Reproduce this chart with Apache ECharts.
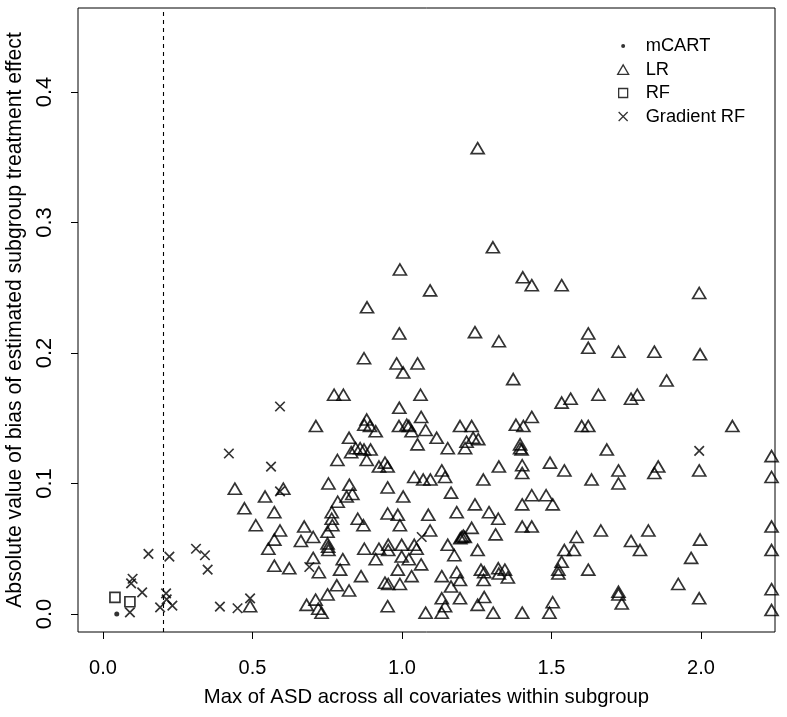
<!DOCTYPE html>
<html><head><meta charset="utf-8">
<script src="https://cdn.jsdelivr.net/npm/echarts@6/dist/echarts.min.js"></script>
<style>html,body{margin:0;padding:0;background:#fff}#c{width:787px;height:717px}</style>
</head><body><div id="c"></div>
<script>
const xTicks = [0, 0.5, 1, 1.5, 2];
const yTicks = [0, 0.1, 0.2, 0.3, 0.4];
const cutoff = 0.2;
const seriesNames = ['mCART', 'LR', 'RF', 'Gradient RF'];
const xTitle = 'Max of ASD across all covariates within subgroup';
const yTitle = 'Absolute value of bias of estimated subgroup treatment effect';

const mcart = [[0.046, 0.0]];
const rf = [[0.040, 0.0128], [0.090, 0.0094]];
const gradientRF = [
  [0.421,0.123],[0.592,0.159],[0.562,0.113],[0.152,0.046],[0.222,0.044],[0.311,0.050],
  [0.341,0.045],[0.350,0.034],[0.099,0.027],[0.094,0.0235],[0.131,0.0166],[0.211,0.0158],
  [0.213,0.0112],[0.232,0.0064],[0.191,0.0051],[0.391,0.0056],[0.450,0.0044],[0.492,0.012],
  [0.090,0.0013],[0.592,0.094],[1.066,0.059],[0.690,0.036],[1.994,0.125]
];
const lr = [
  [1.253,0.357],[1.304,0.281],[0.993,0.264],[1.094,0.248],[0.883,0.235],
  [1.404,0.258],[1.434,0.252],[1.534,0.252],[1.994,0.246],
  [0.991,0.215],[0.873,0.196],[0.982,0.192],[1.052,0.192],[1.004,0.185],
  [0.773,0.168],[0.804,0.168],[1.062,0.168],[0.991,0.158],[1.064,0.151],
  [0.712,0.144],[0.882,0.149],[0.874,0.145],[0.893,0.144],[0.912,0.140],
  [0.990,0.144],[1.016,0.145],[1.023,0.144],[1.032,0.140],[1.079,0.141],
  [0.823,0.135],[0.830,0.124],[0.845,0.127],[0.860,0.127],[0.873,0.126],[0.895,0.126],
  [1.052,0.130],[0.784,0.118],[0.882,0.118],[0.923,0.113],[0.943,0.116],[0.952,0.113],
  [1.041,0.105],[1.071,0.103],
  [1.244,0.216],[1.324,0.209],[1.623,0.215],[1.623,0.204],[1.372,0.180],
  [1.534,0.162],[1.564,0.165],[1.657,0.168],[1.434,0.151],[1.381,0.145],[1.406,0.144],
  [1.194,0.144],[1.233,0.144],[1.601,0.144],[1.623,0.144],
  [1.116,0.135],[1.216,0.132],[1.238,0.135],[1.255,0.134],[1.211,0.127],
  [1.395,0.130],[1.395,0.127],[1.400,0.126],[1.153,0.127],
  [1.324,0.113],[1.402,0.114],[1.402,0.108],[1.495,0.116],[1.543,0.110],
  [1.133,0.110],[1.144,0.105],[1.095,0.103],[1.272,0.103],[1.634,0.103],
  [1.724,0.201],[1.844,0.201],[1.997,0.199],[1.885,0.179],
  [1.766,0.165],[1.787,0.168],[2.105,0.144],[1.685,0.126],
  [2.236,0.121],[1.724,0.110],[1.844,0.108],[1.857,0.113],[1.994,0.110],[2.236,0.105],
  [0.441,0.096],[0.473,0.081],[0.511,0.068],[0.492,0.006],
  [0.603,0.096],[0.542,0.090],[0.754,0.100],[0.824,0.099],[0.815,0.090],[0.834,0.092],
  [0.785,0.086],[0.952,0.097],[1.004,0.090],[0.573,0.078],[0.765,0.078],[0.765,0.073],[0.767,0.068],
  [0.852,0.073],[0.871,0.068],[0.952,0.077],[0.986,0.076],[0.993,0.068],[1.088,0.076],
  [0.673,0.067],[0.703,0.059],[0.662,0.056],[0.592,0.064],[0.573,0.057],[0.553,0.050],
  [0.751,0.063],[0.751,0.054],[0.753,0.0515],[0.754,0.049],
  [0.874,0.050],[0.923,0.050],[0.954,0.053],[0.954,0.049],[0.999,0.053],[0.912,0.042],
  [1.041,0.053],[1.049,0.050],[0.999,0.044],[1.023,0.042],[1.064,0.038],[0.986,0.034],[1.032,0.029],
  [0.703,0.043],[0.573,0.037],[0.623,0.035],[0.722,0.032],[0.793,0.034],[0.802,0.042],[0.863,0.029],
  [0.943,0.024],[0.954,0.023],[0.993,0.023],[0.782,0.022],[0.823,0.018],[0.751,0.015],
  [0.681,0.007],[0.711,0.011],[0.720,0.004],[0.731,0.001],[0.952,0.006],[1.079,0.001],
  [1.164,0.093],[1.244,0.084],[1.183,0.078],[1.291,0.078],[1.322,0.073],[1.233,0.066],
  [1.094,0.064],[1.313,0.061],
  [1.195,0.058],[1.200,0.059],[1.205,0.060],[1.210,0.059],
  [1.153,0.053],[1.175,0.045],[1.253,0.049],
  [1.402,0.084],[1.434,0.091],[1.482,0.091],[1.504,0.084],[1.402,0.067],[1.434,0.067],
  [1.584,0.059],[1.543,0.049],[1.575,0.049],[1.534,0.040],[1.523,0.034],[1.523,0.031],
  [1.623,0.034],[1.665,0.064],
  [1.133,0.029],[1.183,0.032],[1.194,0.026],[1.164,0.021],
  [1.264,0.034],[1.275,0.032],[1.273,0.026],[1.322,0.035],[1.344,0.034],[1.324,0.031],[1.354,0.028],
  [1.133,0.012],[1.144,0.006],[1.133,0.001],[1.194,0.012],[1.275,0.013],[1.253,0.007],
  [1.305,0.001],[1.402,0.001],[1.504,0.009],[1.493,0.001],
  [1.724,0.100],[1.766,0.056],[1.824,0.064],[1.796,0.049],[1.997,0.057],[1.967,0.043],
  [1.924,0.023],[1.994,0.012],[1.724,0.017],[1.724,0.015],[1.735,0.008],
  [2.236,0.067],[2.236,0.049],[2.236,0.019],[2.236,0.003]
];

const FONT = "'Liberation Sans', Arial, Helvetica, sans-serif";
const open = {color: 'rgba(0,0,0,0)', borderColor: '#000', borderWidth: 1.7};
const icons = {
  dot: 'path://M0,0M24,12M4.5,6A2,2,0,1,0,8.5,6A2,2,0,1,0,4.5,6Z',
  tri: 'path://M0,0M24,12M6.5,1.3L12,10.8L1,10.8Z',
  sq: 'path://M0,0M24,12M2,1.5L11,1.5L11,10.5L2,10.5Z',
  cross: 'path://M0,0M24,12M2,1.5L11,10.5M11,1.5L2,10.5'
};

const chart = echarts.init(document.getElementById('c'), null, {renderer: 'canvas'});
chart.setOption({
  animation: false,
  backgroundColor: '#fff',
  grid: {left: 78, right: 12, top: 8, bottom: 85, containLabel: false, outerBoundsMode: 'none',
         show: true, borderColor: '#000', borderWidth: 1, backgroundColor: 'transparent'},
  xAxis: {
    type: 'value', min: -0.0836, max: 2.2475,
    name: xTitle, nameLocation: 'middle', nameGap: 55,
    nameTextStyle: {fontSize: 20.3, fontFamily: FONT, color: '#000'},
    axisLine: {show: false, onZero: false},
    axisTick: {show: true, inside: false, length: 7, customValues: xTicks, lineStyle: {color: '#000'}},
    axisLabel: {customValues: xTicks, margin: 26, fontSize: 20, fontFamily: FONT, color: '#000', formatter: v => v.toFixed(1)},
    splitLine: {show: false}
  },
  yAxis: {
    type: 'value', min: -0.0138, max: 0.4644,
    name: yTitle, nameLocation: 'middle', nameGap: 50, nameRotate: 90,
    nameTextStyle: {fontSize: 21.2, fontFamily: FONT, color: '#000'},
    axisLine: {show: false, onZero: false},
    axisTick: {show: true, inside: false, length: 7, customValues: yTicks, lineStyle: {color: '#000'}},
    axisLabel: {customValues: yTicks, margin: 22, rotate: 90, fontSize: 22, fontFamily: FONT, color: '#000', formatter: v => v.toFixed(1)},
    splitLine: {show: false}
  },
  legend: {
    orient: 'vertical', left: 616, top: 37, padding: 0,
    itemWidth: 24, itemHeight: 12, itemGap: 5.5,
    textStyle: {fontSize: 18.3, fontFamily: FONT, color: '#000'},
    selectedMode: false,
    data: [
      {name: seriesNames[0], icon: icons.dot, itemStyle: {color: '#000', borderWidth: 0}},
      {name: seriesNames[1], icon: icons.tri, itemStyle: {color: 'rgba(0,0,0,0)', borderColor: '#000', borderWidth: 1.3}},
      {name: seriesNames[2], icon: icons.sq, itemStyle: {color: 'rgba(0,0,0,0)', borderColor: '#000', borderWidth: 1.3}},
      {name: seriesNames[3], icon: icons.cross, itemStyle: {color: 'rgba(0,0,0,0)', borderColor: '#000', borderWidth: 1.3}}
    ]
  },
  series: [
    {name: seriesNames[1], type: 'scatter', data: lr, symbol: 'triangle', symbolSize: [13, 11], itemStyle: open, silent: true,
     markLine: {silent: true, symbol: ['none', 'none'], label: {show: false},
       lineStyle: {type: [4, 4], color: '#000', width: 1.1}, data: [{xAxis: cutoff}]}},
    {name: seriesNames[2], type: 'scatter', data: rf, symbol: 'rect', symbolSize: 10, itemStyle: open, silent: true},
    {name: seriesNames[3], type: 'scatter', data: gradientRF, symbol: 'path://M0,0L10,10M10,0L0,10', symbolSize: 9.5, itemStyle: open, silent: true},
    {name: seriesNames[0], type: 'scatter', data: mcart, symbol: 'circle', symbolSize: 5, itemStyle: {color: '#000'}, silent: true}
  ]
});
</script>
</body></html>
